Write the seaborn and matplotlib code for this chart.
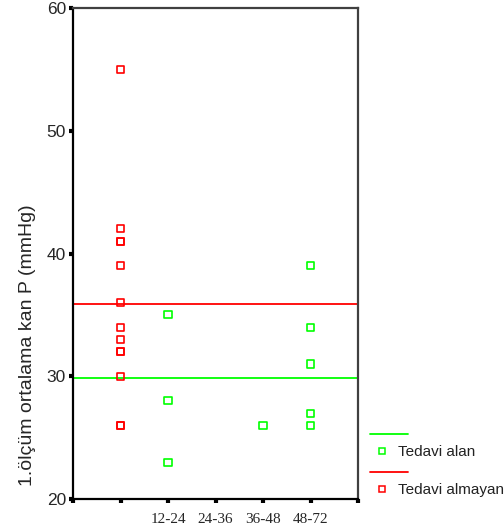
import numpy as np
import pandas as pd
import matplotlib
matplotlib.use("Agg")
import matplotlib.pyplot as plt
from matplotlib.lines import Line2D
import seaborn as sns

# ---- data ----
tick_labels = ["", "", "12-24", "24-36", "36-48", "48-72", ""]
series_names = ["Tedavi alan", "Tedavi almayan"]
colors = ["#00ff00", "#ff0000"]

# Tedavi alan (green): category index -> values
alan_pos = [2, 2, 2, 4, 5, 5, 5, 5, 5]
alan_val = [35, 28, 23, 26, 39, 34, 31, 27, 26]

# Tedavi almayan (red)
almayan_pos = [1] * 13
almayan_val = [55, 42, 41, 41, 39, 36, 34, 33, 32, 32, 30, 26, 26]

y_ticks = [20, 30, 40, 50, 60]

df = pd.DataFrame({
    "pos": alan_pos + almayan_pos,
    "val": alan_val + almayan_val,
    "grup": [series_names[0]] * len(alan_pos) + [series_names[1]] * len(almayan_pos),
})

sns.set_style("ticks")
plt.rcParams["font.family"] = ["Liberation Sans", "DejaVu Sans"]

fig = plt.figure(figsize=(5.04, 5.30), dpi=100)
ax = fig.add_axes([73 / 504, 1 - 499 / 530, (358 - 73) / 504, (499 - 8) / 530])

for name, c in zip(series_names, colors):
    sub = df[df["grup"] == name]
    sns.scatterplot(data=sub, x="pos", y="val", ax=ax, marker="s", s=26,
                    color=c, edgecolor=c, facecolor="none", linewidth=1.2,
                    legend=False, zorder=3)
    ax.axhline(sub["val"].mean(), color=c, lw=1.3, zorder=2)

ax.set_xlim(0, 6)
ax.set_ylim(20, 60)
ax.set_xticks(range(len(tick_labels)))
ax.set_xticklabels(tick_labels, fontfamily="Liberation Serif", fontsize=11)
ax.set_yticks(y_ticks)
ax.set_yticklabels([str(v) for v in y_ticks], fontsize=12.5)
ax.tick_params(axis="both", direction="out", length=3, width=3, color="black", pad=2)
ax.tick_params(axis="x", pad=7)
ax.set_xlabel("")
ax.set_ylabel("1.ölçüm ortalama kan P (mmHg)", fontsize=14)
ax.yaxis.set_label_coords(-0.13, 0.314)

for s in ["left", "bottom"]:
    ax.spines[s].set_color("black")
    ax.spines[s].set_linewidth(1.6)
for s in ["top", "right"]:
    ax.spines[s].set_visible(True)
    ax.spines[s].set_color("#404040")
    ax.spines[s].set_linewidth(1.6)

# ---- legend (outside, lower right) ----
def fx(px):
    return px / 504
def fy(py):
    return 1 - py / 530

rows = [(434, 451), (472, 489)]
for (ly, my), name, c in zip(rows, series_names, colors):
    fig.add_artist(Line2D([fx(370), fx(408)], [fy(ly), fy(ly)], color=c, lw=1.3,
                          transform=fig.transFigure))
    fig.add_artist(Line2D([fx(382)], [fy(my)], marker="s", markersize=4.5,
                          markerfacecolor="none", markeredgecolor=c, markeredgewidth=1.1,
                          linestyle="none", transform=fig.transFigure))
    fig.text(fx(398), fy(my + 1), name, fontsize=11, va="center", ha="left", color="#222222")

fig.savefig("out.png", dpi=100)
